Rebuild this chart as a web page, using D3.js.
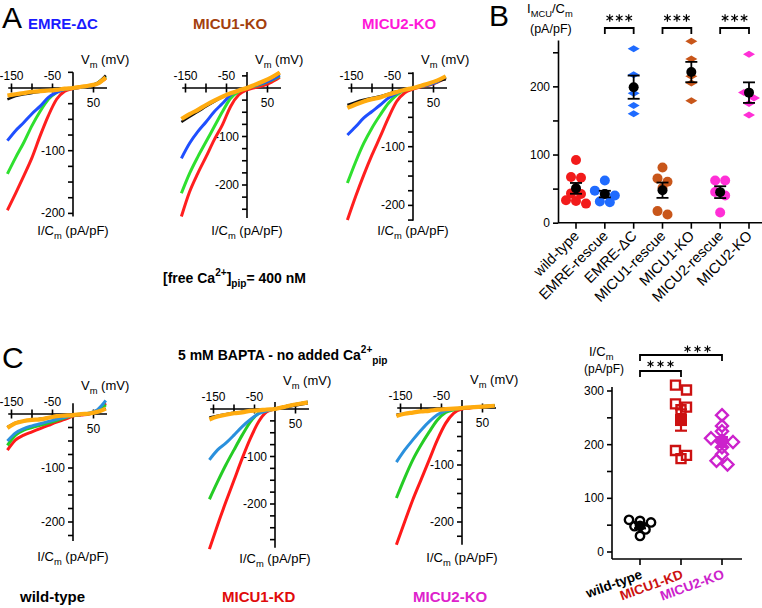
<!DOCTYPE html>
<html><head><meta charset="utf-8">
<script src="https://cdn.jsdelivr.net/npm/d3@7"></script>
<style>body{margin:0;background:#fff}svg{display:block}</style>
</head><body><svg id="c" width="762" height="608"></svg>
<script>
// ---------- DATA ----------
const voltages = [-160,-140,-120,-100,-80,-60,-40,-20,0,20,40,60,80];

// Panel A: EMRE-ΔC
const emreDC_red    = [-195,-168,-140,-111,-76,-44,-18,-5,-1,1,3,7,15];
const emreDC_green  = [-137,-111,-87,-60,-37,-18,-7,-2,0,1,3,8,18];
const emreDC_blue   = [-84,-68,-55,-41,-29,-15,-7,-2,0,1,3,8,17];
const emreDC_black  = [-18,-13,-10,-8,-6,-4,-3,-1,0,2,4,8,20];
const emreDC_orange = [-12,-10,-8,-6,-5,-4,-3,-1,0,2,4,7,17];
// Panel A: MICU1-KO
const micu1KO_red    = [-265,-214,-176,-142,-107,-76,-38,-14,-4,1,5,12,22];
const micu1KO_green  = [-217,-176,-142,-111,-80,-49,-21,-7,0,4,9,16,25];
const micu1KO_blue   = [-145,-114,-90,-70,-49,-32,-14,-4,0,5,10,17,27];
const micu1KO_black  = [-70,-59,-49,-38,-28,-19,-11,-5,0,7,14,21,30];
const micu1KO_orange = [-64,-54,-45,-35,-26,-18,-11,-5,0,7,14,22,32];
// Panel A: MICU2-KO
const micu2KO_red    = [-225,-185,-148,-114,-83,-51,-23,-8,-2,2,5,10,17];
const micu2KO_green  = [-162,-126,-94,-68,-46,-26,-12,-3,0,3,6,11,18];
const micu2KO_blue   = [-80,-66,-51,-40,-29,-17,-9,-3,0,3,6,11,18];
const micu2KO_black  = [-29,-24,-20,-17,-14,-10,-6,-3,0,4,8,12,15];
const micu2KO_orange = [-34,-28,-23,-19,-16,-11,-7,-3,0,4,8,13,20];
// Panel C: wild-type
const cWT_red    = [-67,-48,-39,-33,-27,-21,-15,-10,-4,-2,0,7,20];
const cWT_green  = [-58,-39,-30,-25,-21,-17,-12,-7,-3,-1,1,6,17];
const cWT_blue   = [-50,-35,-27,-22,-18,-14,-10,-6,-2,0,2,8,25];
const cWT_black  = [-24,-16,-13,-11,-9,-7,-5,-3,-2,0,1,4,10];
const cWT_orange = [-26,-17,-13,-11,-10,-7,-4,-3,-2,0,1,4,10];
// Panel C: MICU1-KD
const cM1_red    = [-295,-244,-196,-150,-104,-62,-27,-6,0,4,8,11,14];
const cM1_green  = [-190,-153,-118,-86,-55,-27,-9,-3,0,4,8,11,14];
const cM1_blue   = [-107,-86,-72,-55,-37,-22,-10,-4,0,4,8,11,14];
const cM1_black  = [-18,-14,-11,-8,-6,-4,-2,-1,0,3,6,9,12];
const cM1_orange = [-22,-16,-12,-9,-7,-4,-3,-1,0,4,8,11,14];
// Panel C: MICU2-KO
const cM2_red    = [-240,-200,-161,-126,-91,-56,-27,-9,-2,0,2,3,4];
const cM2_green  = [-158,-123,-91,-65,-42,-21,-8,-3,0,1,2,3,4];
const cM2_blue   = [-95,-74,-56,-39,-24,-12,-5,-2,0,1,2,3,4];
const cM2_black  = [-12,-10,-8,-6,-5,-3,-2,-1,0,1,2,3,3];
const cM2_orange = [-14,-10,-8,-6,-5,-3,-2,-1,0,1,2,3,4];

// Panel B scatter
const bCategories = ["wild-type","EMRE-rescue","EMRE-ΔC","MICU1-rescue","MICU1-KO","MICU2-rescue","MICU2-KO"];
const bWildType    = [92,67,66,43,42,33,32,28];
const bEmreRescue  = [62,47,42,40,31,30];
const bEmreDC      = [255,217,190,172,160];
const bMicu1Rescue = [81,65,60,51,17,12];
const bMicu1KO     = [266,240,215,205,179];
const bMicu2Rescue = [62,62,45,40,15];
const bMicu2KO     = [247,191,183,175,158];
const bTicks = [0,50,100,150,200,250];

// Panel C scatter
const cCategories = ["wild-type","MICU1-KD","MICU2-KO"];
const cWildType = [60,58,55,48,42,30];
const cMicu1KD  = [311,302,276,270,265,189,180,174];
const cMicu2KO  = [255,235,225,212,208,205,195,182,170,163];
const cTicks = [0,50,100,150,200,250,300];

// ---------- DRAW ----------
const FONT = '"Liberation Sans", Arial, Helvetica, sans-serif';
const svg = d3.select('#c').style('font-family', FONT);

function rich(sel, x, y, parts, size, opts = {}) {
  const t = sel.append('text').attr('x', x).attr('y', y).attr('font-size', size)
    .attr('text-anchor', opts.anchor || 'start')
    .attr('font-weight', opts.weight || 'normal')
    .attr('fill', opts.fill || '#000');
  if (opts.transform) t.attr('transform', opts.transform);
  let cur = 0;
  parts.forEach(p => {
    const target = p.sub ? size * 0.32 : p.sup ? -size * 0.5 : 0;
    t.append('tspan').attr('dy', target - cur)
      .attr('font-size', (p.sub || p.sup) ? size * 0.72 : size).text(p.t);
    cur = target;
  });
  return t;
}

const colA = ["#ff1f1f", "#2fe02f", "#1f4fff", "#111111", "#ffab0f"];
const colC = ["#ff1a1a", "#25cc25", "#2a90dd", "#111111", "#ffab0f"];
const trW  = [3, 3, 3, 2.5, 4.2];

function ivPanel(p) {
  const kx = 0.41;
  const x = d3.scaleLinear().domain([-160, 80]).range([p.ox - 160 * kx, p.ox + 80 * kx]);
  const y = d3.scaleLinear().domain([0, -100]).range([p.oy, p.oy + 100 * p.ky]);
  const g = svg.append('g');
  const ax = g.append('g').attr('stroke', '#000').attr('stroke-width', 1.6);
  ax.append('line').attr('x1', x(-158)).attr('x2', x(83)).attr('y1', p.oy).attr('y2', p.oy);
  [-150, -100, -50, 50].forEach(v => ax.append('line').attr('x1', x(v)).attr('x2', x(v))
    .attr('y1', p.oy - 4.5).attr('y2', p.oy + 4.5));
  ax.append('line').attr('x1', p.ox).attr('x2', p.ox).attr('y1', y(p.top)).attr('y2', y(p.bottom));
  const vt = d3.range(Math.ceil(p.bottom / 25) * 25, p.top + 1, 25).filter(v => v !== 0);
  vt.forEach(v => ax.append('line').attr('x1', p.ox - 5).attr('x2', p.ox).attr('y1', y(v)).attr('y2', y(v)));
  [-150, -50].forEach(v => g.append('text').attr('x', x(v)).attr('y', p.oy - 8)
    .attr('text-anchor', 'middle').attr('font-size', 12).text(v));
  g.append('text').attr('x', x(50)).attr('y', p.oy + 19).attr('text-anchor', 'middle').attr('font-size', 12).text(50);
  [-100, -200].forEach(v => g.append('text').attr('x', p.ox - 8).attr('y', y(v) + 4)
    .attr('text-anchor', 'end').attr('font-size', 12).text(v));
  rich(g, p.ox + 8, p.oy - 24, [{t: 'V'}, {t: 'm', sub: true}, {t: ' (mV)'}], 13);
  rich(g, p.ox, p.labelY, [{t: 'I/C'}, {t: 'm', sub: true}, {t: ' (pA/pF)'}], 13, {anchor: 'middle'});
  const line = d3.line().x((d, i) => x(voltages[i])).y(d => y(d)).curve(d3.curveMonotoneX);
  p.traces.forEach((tr, k) => g.append('path').attr('d', line(tr)).attr('fill', 'none')
    .attr('stroke', p.colors[k]).attr('stroke-width', trW[k]).attr('stroke-linejoin', 'round'));
}

ivPanel({ox: 73,  oy: 88, ky: 0.627, top: 25, bottom: -205, labelY: 235, colors: colA,
  traces: [emreDC_red, emreDC_green, emreDC_blue, emreDC_black, emreDC_orange]});
ivPanel({ox: 247, oy: 88, ky: 0.485, top: 33, bottom: -268, labelY: 235, colors: colA,
  traces: [micu1KO_red, micu1KO_green, micu1KO_blue, micu1KO_black, micu1KO_orange]});
ivPanel({ox: 413, oy: 88, ky: 0.587, top: 27, bottom: -226, labelY: 235, colors: colA,
  traces: [micu2KO_red, micu2KO_green, micu2KO_blue, micu2KO_black, micu2KO_orange]});
ivPanel({ox: 73,  oy: 414, ky: 0.54, top: 20, bottom: -235, labelY: 561, colors: colC,
  traces: [cWT_red, cWT_green, cWT_blue, cWT_black, cWT_orange]});
ivPanel({ox: 275, oy: 409, ky: 0.475, top: 15, bottom: -292, labelY: 563, colors: colC,
  traces: [cM1_red, cM1_green, cM1_blue, cM1_black, cM1_orange]});
ivPanel({ox: 462, oy: 408, ky: 0.57, top: 14, bottom: -240, labelY: 562, colors: colC,
  traces: [cM2_red, cM2_green, cM2_blue, cM2_black, cM2_orange]});

// Titles & panel letters
svg.append('text').attr('x', 2).attr('y', 28).attr('font-size', 30).text('A');
svg.append('text').attr('x', 489).attr('y', 26).attr('font-size', 30).text('B');
svg.append('text').attr('x', 2).attr('y', 368).attr('font-size', 30).text('C');
svg.append('text').attr('x', 28).attr('y', 29).attr('font-size', 15).attr('font-weight', 'bold').attr('fill', '#1a1aff').text('EMRE-ΔC');
svg.append('text').attr('x', 193).attr('y', 29).attr('font-size', 15).attr('font-weight', 'bold').attr('fill', '#a3400d').text('MICU1-KO');
svg.append('text').attr('x', 362).attr('y', 29).attr('font-size', 15).attr('font-weight', 'bold').attr('fill', '#ff18d8').text('MICU2-KO');
rich(svg, 163, 283, [{t: '[free Ca'}, {t: '2+', sup: true}, {t: ']'}, {t: 'pip', sub: true}, {t: '= 400 nM'}], 14, {weight: 'bold'});
rich(svg, 178, 360, [{t: '5 mM BAPTA - no added Ca'}, {t: '2+', sup: true}, {t: 'pip', sub: true}], 14, {weight: 'bold'});
svg.append('text').attr('x', 20).attr('y', 602).attr('font-size', 15).attr('font-weight', 'bold').attr('fill', '#000').text('wild-type');
svg.append('text').attr('x', 222).attr('y', 602).attr('font-size', 15).attr('font-weight', 'bold').attr('fill', '#e00b0b').text('MICU1-KD');
svg.append('text').attr('x', 413).attr('y', 602).attr('font-size', 15).attr('font-weight', 'bold').attr('fill', '#dd22cc').text('MICU2-KO');

// helpers for scatter panels
function rowOffsets(vals, ys, thr, step) {
  const order = vals.map((v, i) => i).sort((a, b) => vals[b] - vals[a]);
  const rows = [];
  order.forEach(i => {
    const last = rows[rows.length - 1];
    if (last && Math.abs(ys(vals[i]) - ys(vals[last[0]])) < thr) last.push(i); else rows.push([i]);
  });
  const off = new Array(vals.length);
  rows.forEach(r => r.forEach((i, k) => { off[i] = (k - (r.length - 1) / 2) * step; }));
  return off;
}
function sem(a) { return d3.deviation(a) / Math.sqrt(a.length); }
function star(g, cx, cy, size, sw) {
  g.append('path').attr('d', d3.symbol(d3.symbolAsterisk, size)()).attr('transform', `translate(${cx},${cy})`)
    .attr('fill', 'none').attr('stroke', '#000').attr('stroke-width', sw);
}
function diamondPath(w, h) { return `M0,${-h/2}L${w/2},0L0,${h/2}L${-w/2},0Z`; }

// ---------- Panel B ----------
{
  const g = svg.append('g');
  const xB = d3.scalePoint().domain(bCategories).range([576, 749]);
  const yB = d3.scaleLinear().domain([0, 268]).range([222.7, 40]);
  const series = [bWildType, bEmreRescue, bEmreDC, bMicu1Rescue, bMicu1KO, bMicu2Rescue, bMicu2KO];
  const colors = ["#f21b1b", "#1f6bff", "#1f6bff", "#c8561a", "#c8561a", "#ff2fd6", "#ff2fd6"];
  const shapes = ["c", "c", "d", "c", "d", "c", "d"];
  g.append('g').attr('transform', 'translate(558,0)')
    .call(d3.axisLeft(yB).tickValues(bTicks).tickSize(5).tickSizeOuter(0).tickFormat(d => d % 100 === 0 ? d : ''))
    .call(a => a.selectAll('path,line').attr('stroke-width', 1.6))
    .call(a => a.selectAll('text').attr('font-size', 12).attr('font-family', FONT));
  g.append('line').attr('x1', 558).attr('x2', 762).attr('y1', yB(0)).attr('y2', yB(0)).attr('stroke', '#000').attr('stroke-width', 1.6);
  bCategories.forEach(c => {
    g.append('line').attr('x1', xB(c)).attr('x2', xB(c)).attr('y1', yB(0)).attr('y2', yB(0) + 6).attr('stroke', '#000').attr('stroke-width', 1.6);
    g.append('text').attr('text-anchor', 'end').attr('font-size', 14.5)
      .attr('transform', `translate(${xB(c) + 4},${yB(0) + 14}) rotate(-45)`).text(c);
  });
  series.forEach((vals, k) => {
    const cx = xB(bCategories[k]);
    const off = rowOffsets(vals, yB, 6, 10);
    vals.forEach((v, i) => {
      if (shapes[k] === 'c') g.append('circle').attr('cx', cx + off[i]).attr('cy', yB(v)).attr('r', 5).attr('fill', colors[k]);
      else g.append('path').attr('d', diamondPath(12, 7)).attr('transform', `translate(${cx + off[i]},${yB(v)})`).attr('fill', colors[k]);
    });
    const m = d3.mean(vals), s = sem(vals);
    g.append('line').attr('x1', cx).attr('x2', cx).attr('y1', yB(m - s)).attr('y2', yB(m + s)).attr('stroke', '#000').attr('stroke-width', 1.8);
    [m - s, m + s].forEach(v => g.append('line').attr('x1', cx - 6).attr('x2', cx + 6).attr('y1', yB(v)).attr('y2', yB(v)).attr('stroke', '#000').attr('stroke-width', 1.8));
    g.append('circle').attr('cx', cx).attr('cy', yB(m)).attr('r', 5).attr('fill', '#000');
  });
  [[1, 2], [3, 4], [5, 6]].forEach(([a, b]) => {
    const x1 = xB(bCategories[a]), x2 = xB(bCategories[b]);
    g.append('path').attr('d', `M${x1},34V28H${x2}V34`).attr('fill', 'none').attr('stroke', '#000').attr('stroke-width', 1.8);
    [-9.5, 0, 9.5].forEach(dx => star(g, (x1 + x2) / 2 + dx, 18, 40, 1.2));
  });
  rich(g, 527, 13, [{t: 'I'}, {t: 'MCU', sub: true}, {t: '/C'}, {t: 'm', sub: true}], 13);
  g.append('text').attr('x', 530).attr('y', 33).attr('font-size', 12.5).text('(pA/pF)');
}

// ---------- Panel C scatter ----------
{
  const g = svg.append('g');
  const xC = d3.scalePoint().domain(cCategories).range([640, 722]);
  const yC = d3.scaleLinear().domain([0, 300]).range([552, 391]);
  const series = [cWildType, cMicu1KD, cMicu2KO];
  const colors = ["#000000", "#cc1111", "#cc22cc"];
  g.append('line').attr('x1', 612).attr('x2', 612).attr('y1', 387).attr('y2', 559).attr('stroke', '#000').attr('stroke-width', 1.6);
  g.append('line').attr('x1', 612).attr('x2', 742).attr('y1', 559).attr('y2', 559).attr('stroke', '#000').attr('stroke-width', 1.6);
  cTicks.forEach(v => {
    g.append('line').attr('x1', 607).attr('x2', 612).attr('y1', yC(v)).attr('y2', yC(v)).attr('stroke', '#000').attr('stroke-width', 1.6);
    if (v % 100 === 0) g.append('text').attr('x', 604).attr('y', yC(v) + 4).attr('text-anchor', 'end').attr('font-size', 12).text(v);
  });
  cCategories.forEach((c, k) => {
    g.append('line').attr('x1', xC(c)).attr('x2', xC(c)).attr('y1', 559).attr('y2', 565).attr('stroke', '#000').attr('stroke-width', 1.6);
    g.append('text').attr('text-anchor', 'end').attr('font-size', 13.5).attr('font-weight', 'bold').attr('fill', colors[k])
      .attr('transform', `translate(${xC(c) + 3},578) rotate(-20)`).text(c);
  });
  const shape = (k, filled) => {
    if (k === 0) return d3.symbol(d3.symbolCircle, filled ? 90 : 55)();
    if (k === 1) return filled ? 'M-6,-6H6V6H-6Z' : 'M-4.5,-4.5H4.5V4.5H-4.5Z';
    return filled ? diamondPath(15, 15) : diamondPath(12, 12);
  };
  series.forEach((vals, k) => {
    const cx = xC(cCategories[k]);
    const off = rowOffsets(vals, yC, 5, 11);
    vals.forEach((v, i) => g.append('path').attr('d', shape(k, false)).attr('transform', `translate(${cx + off[i]},${yC(v)})`)
      .attr('fill', 'none').attr('stroke', colors[k]).attr('stroke-width', 2.4));
    const m = d3.mean(vals), s = sem(vals);
    g.append('line').attr('x1', cx).attr('x2', cx).attr('y1', yC(m - s)).attr('y2', yC(m + s)).attr('stroke', colors[k]).attr('stroke-width', 2.2);
    [m - s, m + s].forEach(v => g.append('line').attr('x1', cx - 6).attr('x2', cx + 6).attr('y1', yC(v)).attr('y2', yC(v)).attr('stroke', colors[k]).attr('stroke-width', 2.2));
    g.append('path').attr('d', shape(k, true)).attr('transform', `translate(${cx},${yC(m)})`).attr('fill', colors[k]);
  });
  const xw = xC(cCategories[0]), x1 = xC(cCategories[1]), x2 = xC(cCategories[2]);
  g.append('path').attr('d', `M${xw},377V371H${x1}V377`).attr('fill', 'none').attr('stroke', '#000').attr('stroke-width', 1.8);
  g.append('path').attr('d', `M${xw},361V355H${x2}V361`).attr('fill', 'none').attr('stroke', '#000').attr('stroke-width', 1.8);
  [-10, 0, 10].forEach(dx => star(g, (xw + x1) / 2 + dx, 364, 32, 1.1));
  [-10, 0, 10].forEach(dx => star(g, (x1 + x2) / 2 - 4 + dx, 349, 32, 1.1));
  rich(g, 589, 356, [{t: 'I/C'}, {t: 'm', sub: true}], 13);
  g.append('text').attr('x', 584).attr('y', 373).attr('font-size', 12).text('(pA/pF)');
}
</script></body></html>
